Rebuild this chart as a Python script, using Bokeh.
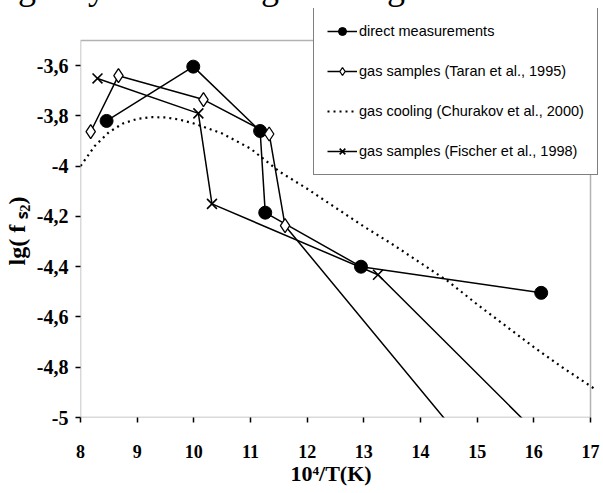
from bokeh.plotting import figure
from bokeh.layouts import column
from bokeh.models import (Range1d, FixedTicker, CustomJSTickFormatter, Legend, LegendItem,
                          BoxAnnotation, Div)
from bokeh.embed import file_html
from bokeh.resources import INLINE

# ---- data ----
direct_x = [8.46, 9.99, 11.17, 11.26, 12.95, 16.13]
direct_y = [-3.82, -3.604, -3.86, -4.185, -4.40, -4.504]

taran_x = [8.18, 8.67, 10.17, 11.33, 11.61, 14.59]
taran_y = [-3.863, -3.64, -3.735, -3.872, -4.237, -5.05]

churakov_x = [7.95, 8.0, 8.25, 8.5, 8.75, 9.0, 9.25, 9.5, 9.75, 10.0, 10.5, 11.0, 11.5,
              12.0, 12.5, 13.0, 13.5, 14.0, 14.5, 15.0, 15.5, 16.0, 16.5, 17.0, 17.1]
churakov_y = [-4.02, -4.00, -3.92, -3.865, -3.83, -3.812, -3.805, -3.806, -3.815, -3.83,
              -3.87, -3.93, -4.02, -4.09, -4.165, -4.24, -4.31, -4.385, -4.46, -4.55,
              -4.635, -4.72, -4.80, -4.875, -4.89]

fischer_x = [8.30, 10.08, 10.32, 13.25, 16.0]
fischer_y = [-3.651, -3.79, -4.15, -4.432, -5.05]

x_ticks = [8, 9, 10, 11, 12, 13, 14, 15, 16, 17]
y_ticks = [-5.0, -4.8, -4.6, -4.4, -4.2, -4.0, -3.8, -3.6]
y_tick_labels = ["-5", "-4,8", "-4,6", "-4,4", "-4,2", "-4", "-3,8", "-3,6"]
x_min, x_max = 8, 17
y_min, y_max = -5, -3.5

series_names = ["direct measurements",
                "gas samples (Taran et al., 1995)",
                "gas cooling (Churakov et al., 2000)",
                "gas samples (Fischer et al., 1998)"]
page_text = "fugacity but its usage in long-te"

SERIF = "'Liberation Serif', 'Times New Roman', serif"
SANS = "'Liberation Sans', Arial, sans-serif"
NB = "\u00a0"

# layout (canvas pixels): plot box left 80, right 590, top 40, bottom 417.
W, H = 603, 493
STRIP = 8
BOX_L, BOX_R, BOX_T, BOX_B = 80, 590, 40, 417
xs = (BOX_R - BOX_L) / (x_max - x_min)
ys = (BOX_B - BOX_T) / (y_max - y_min)

# ---- thin strip with the cropped running text of the scanned page ----
top = Div(
    text=('<div style="position:relative; left:-12px; top:-31px; '
          "font-family:'Liberation Serif',serif; font-size:36px; line-height:36px; "
          'white-space:nowrap; color:black;">' + page_text + '</div>'),
    width=W, height=STRIP, margin=0, styles={"overflow": "visible"})

# ---- main chart (frame extended to top/right edges so the legend can overhang) ----
p = figure(width=W, height=H - STRIP, output_backend="svg", toolbar_location=None,
           x_range=Range1d(x_min, x_max + (W - BOX_R) / xs),
           y_range=Range1d(y_min, y_max + (BOX_T - STRIP) / ys),
           min_border_left=BOX_L, min_border_right=0, min_border_top=0,
           min_border_bottom=H - BOX_B, margin=0)
p.background_fill_color = None
p.border_fill_color = None
p.outline_line_color = None
p.grid.visible = False

for ax in (p.xaxis[0], p.yaxis[0]):
    ax.axis_line_color = None
    ax.major_tick_line_color = "black"
    ax.major_tick_line_width = 1.5
    ax.major_tick_in = 0
    ax.major_tick_out = 5
    ax.minor_tick_line_color = None
    ax.major_label_text_font = SERIF
    ax.major_label_text_font_style = "bold"
    ax.major_label_text_color = "black"

p.xaxis.ticker = FixedTicker(ticks=x_ticks)
p.xaxis.major_label_text_font_size = "18px"
p.xaxis.major_label_standoff = 22
p.xaxis.axis_label = "10\u2074/T(K)" + NB * 4
p.xaxis.axis_label_text_font = SERIF
p.xaxis.axis_label_text_font_style = "bold"
p.xaxis.axis_label_text_font_size = "22px"
p.xaxis.axis_label_text_color = "black"
p.xaxis.axis_label_standoff = 0

p.yaxis.ticker = FixedTicker(ticks=y_ticks)
p.yaxis.formatter = CustomJSTickFormatter(
    args=dict(yt=y_ticks, yl=y_tick_labels),
    code="""
for (let i = 0; i < yt.length; i++) {
  if (Math.abs(yt[i] - tick) < 1e-9) return yl[i];
}
return '';
""")
p.yaxis.major_label_text_font_size = "20px"
p.yaxis.major_label_standoff = 7
p.yaxis.axis_label = "lg( f \u209b\u2082)" + NB * 6
p.yaxis.axis_label_text_font = SERIF
p.yaxis.axis_label_text_font_style = "bold"
p.yaxis.axis_label_text_font_size = "24px"
p.yaxis.axis_label_text_color = "black"
p.yaxis.axis_label_standoff = 4

# plot box
p.add_layout(BoxAnnotation(left=x_min, right=x_max, bottom=y_min, top=y_max,
                           fill_alpha=0, line_color="black", line_width=1.5))

# ---- series ----
r_churakov = p.line(churakov_x, churakov_y, line_color="black", line_width=2.2, line_dash="2 4")

r_direct_l = p.line(direct_x, direct_y, line_color="black", line_width=1.5)
r_taran_l = p.line(taran_x, taran_y, line_color="black", line_width=1.5)
r_fischer_l = p.line(fischer_x, fischer_y, line_color="black", line_width=1.5)

r_direct_m = p.scatter(direct_x, direct_y, marker="circle", size=13,
                       fill_color="black", line_color="black")
r_taran_m = p.scatter(taran_x, taran_y, marker="diamond", size=14,
                      fill_color="white", line_color="black", line_width=1.3)
r_fischer_m = p.scatter(fischer_x, fischer_y, marker="x", size=14,
                        line_color="black", line_width=1.6)

legend = Legend(items=[
    LegendItem(label=series_names[0], renderers=[r_direct_l, r_direct_m]),
    LegendItem(label=series_names[1], renderers=[r_taran_l, r_taran_m]),
    LegendItem(label=series_names[2], renderers=[r_churakov]),
    LegendItem(label=series_names[3], renderers=[r_fischer_l, r_fischer_m]),
], location=(313 - BOX_L, BOX_B - 175))
legend.border_line_color = "black"
legend.border_line_width = 1.2
legend.background_fill_color = "white"
legend.background_fill_alpha = 1.0
legend.label_text_font = SANS
legend.label_text_font_size = "14.5px"
legend.label_text_color = "black"
legend.glyph_width = 30
legend.glyph_height = 20
legend.label_height = 20
legend.spacing = 20
legend.padding = 13
legend.margin = 0
legend.label_standoff = 2
p.add_layout(legend, "center")

layout = column(top, p, spacing=0)
open("out.html", "w").write(file_html(layout, INLINE))
